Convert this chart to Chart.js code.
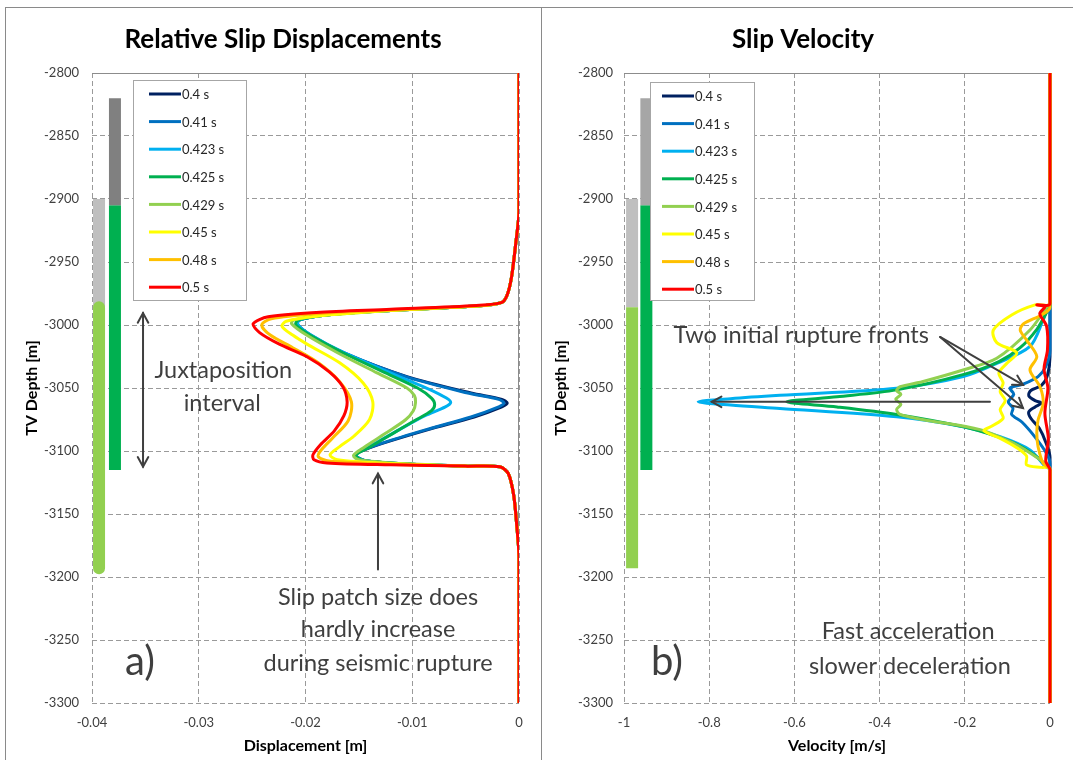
<!DOCTYPE html>
<html>
<head>
<meta charset="utf-8">
<title>Slip displacement and slip velocity</title>
<script src="https://cdn.jsdelivr.net/npm/chart.js@4.4.0/dist/chart.umd.min.js"></script>
<style>
    body { margin: 0; background: #fff; }
    #frame { position: absolute; left: 5px; top: 7px; width: 1068px; height: 753px; border-left: 1px solid #8a8a8a; border-top: 1px solid #8a8a8a; }
    #sep { position: absolute; left: 541px; top: 7px; width: 1px; height: 753px; background: #8a8a8a; }
    .panel { position: absolute; top: 8px; height: 752px; }
    #left-panel { left: 6px; width: 534px; }
    #right-panel { left: 542px; width: 530px; }
</style>
</head>
<body>
<div id="frame"></div>
<div id="sep"></div>
<div class="panel" id="left-panel"><canvas id="dispChart"></canvas></div>
<div class="panel" id="right-panel"><canvas id="velChart"></canvas></div>

<script>
// --- Data ---
const times = ['0.4 s', '0.41 s', '0.423 s', '0.425 s', '0.429 s', '0.45 s', '0.48 s', '0.5 s'];
const depthTicks = [-2800, -2850, -2900, -2950, -3000, -3050, -3100, -3150, -3200, -3250, -3300];
const dispTicks = [-0.04, -0.03, -0.02, -0.01, 0];
const velTicks = [-1, -0.8, -0.6, -0.4, -0.2, 0];

// well columns (top depth, bottom depth)
const unitAUpper = [-2900, -2986];
const unitALower = [-2986, -3193];
const unitBUpper = [-2820, -2905];
const unitBLower = [-2905, -3115];

// displacement [m] vs depth [m], as [displacement, depth]
const dispTop = [[0, -2800], [0, -2910], [-0.0003, -2935], [-0.0007, -2962], [-0.0011, -2976], [-0.0016, -2982]];
const dispBottom = [[-0.0018, -3112.5], [-0.001, -3118], [-0.0005, -3135], [-0.0002, -3160], [0, -3184], [0, -3300]];

const disp04 = [[-0.004, -2985], [-0.012, -2988.5], [-0.018, -2992], [-0.0206, -2996], [-0.0208, -3000], [-0.0196, -3008],
    [-0.0165, -3022], [-0.0105, -3041], [-0.0045, -3054], [-0.0016, -3059], [-0.0011, -3062], [-0.0016, -3065],
    [-0.0042, -3073], [-0.0085, -3083], [-0.0128, -3094], [-0.0150, -3101], [-0.0153, -3104], [-0.0142, -3108],
    [-0.010, -3110.5], [-0.005, -3112]];
const disp041 = [[-0.004, -2985], [-0.012, -2988.5], [-0.018, -2992], [-0.0206, -2996], [-0.0207, -3000], [-0.0195, -3008],
    [-0.0164, -3022], [-0.0106, -3041], [-0.0048, -3054], [-0.0019, -3059], [-0.0014, -3062], [-0.0019, -3065],
    [-0.0045, -3073], [-0.0087, -3083], [-0.0129, -3094], [-0.0150, -3101], [-0.0153, -3104], [-0.0142, -3108],
    [-0.010, -3110.5], [-0.005, -3112]];
const disp0423 = [[-0.004, -2985], [-0.012, -2988.5], [-0.018, -2992], [-0.0206, -2996], [-0.0207, -3000], [-0.0195, -3008],
    [-0.0164, -3022], [-0.0115, -3040], [-0.0084, -3051], [-0.0068, -3058], [-0.0064, -3061.5], [-0.0069, -3065],
    [-0.0088, -3072], [-0.0112, -3083], [-0.0135, -3094], [-0.0151, -3101], [-0.0153, -3104], [-0.0142, -3108],
    [-0.010, -3110.5], [-0.005, -3112]];
const disp0425 = [[-0.004, -2985], [-0.012, -2988.5], [-0.018, -2992], [-0.0207, -2996], [-0.0209, -3000], [-0.0196, -3008],
    [-0.0165, -3022], [-0.0125, -3038], [-0.0095, -3050], [-0.0082, -3058], [-0.0079, -3063], [-0.0082, -3068],
    [-0.0098, -3076], [-0.0118, -3086], [-0.0140, -3097], [-0.0153, -3103.5], [-0.0146, -3107.5],
    [-0.010, -3110.5], [-0.005, -3112]];
const disp0429 = [[-0.004, -2985], [-0.012, -2988.5], [-0.018, -2992], [-0.0211, -2996], [-0.0213, -2999], [-0.0199, -3008],
    [-0.0170, -3022], [-0.0133, -3038], [-0.0105, -3050], [-0.0098, -3056], [-0.0097, -3062], [-0.0099, -3068],
    [-0.0106, -3075], [-0.0125, -3086], [-0.0145, -3097], [-0.0155, -3103.5], [-0.0150, -3107],
    [-0.011, -3110], [-0.005, -3112]];
const disp045 = [[-0.004, -2985], [-0.012, -2988.5], [-0.019, -2993], [-0.0218, -2997], [-0.0222, -3001], [-0.0212, -3008],
    [-0.0199, -3015], [-0.0168, -3030], [-0.0146, -3046], [-0.0137, -3061], [-0.0140, -3075], [-0.0155, -3088.5],
    [-0.0168, -3096.5], [-0.0177, -3103], [-0.0170, -3107], [-0.012, -3110], [-0.005, -3112]];
const disp048 = [[-0.004, -2985], [-0.012, -2988], [-0.019, -2991], [-0.0232, -2995], [-0.0241, -3000], [-0.0233, -3008],
    [-0.0212, -3018], [-0.0188, -3030], [-0.0168, -3045], [-0.0157, -3061], [-0.0160, -3076], [-0.0175, -3090],
    [-0.0186, -3100], [-0.0188, -3104.5], [-0.0178, -3108], [-0.012, -3110.5], [-0.005, -3112]];
const disp05 = [[-0.004, -2984.5], [-0.012, -2987.5], [-0.019, -2990], [-0.0235, -2993.5], [-0.0249, -2999], [-0.0243, -3006],
    [-0.0225, -3015], [-0.0199, -3025], [-0.0178, -3037], [-0.0165, -3049], [-0.0161, -3061], [-0.0164, -3072],
    [-0.0173, -3084], [-0.0186, -3095], [-0.0193, -3103], [-0.0192, -3107], [-0.0180, -3109.5], [-0.012, -3111],
    [-0.005, -3112]];

// slip velocity [m/s] vs depth [m], as [velocity, depth]
const vel04 = [[0, -2800], [0, -3025], [-0.006, -3040], [-0.02, -3048], [-0.045, -3052], [-0.05, -3056], [-0.035, -3060],
    [-0.02, -3062], [-0.035, -3065], [-0.05, -3069], [-0.045, -3074], [-0.025, -3082], [-0.01, -3093], [0, -3105], [0, -3300]];
const vel041 = [[0, -2800], [0, -3020], [-0.01, -3033], [-0.028, -3041], [-0.063, -3047], [-0.094, -3050], [-0.085, -3055],
    [-0.098, -3061], [-0.087, -3066], [-0.09, -3071], [-0.066, -3077], [-0.035, -3089], [-0.008, -3102], [0, -3110], [0, -3300]];
const vel0423 = [[0, -2800], [0, -2985], [-0.008, -2989], [-0.016, -2996], [-0.047, -3017], [-0.125, -3030.5], [-0.2035, -3041],
    [-0.36, -3050.2], [-0.634, -3055.8], [-0.75, -3058.5], [-0.826, -3061], [-0.75, -3063.5], [-0.634, -3066.2], [-0.36, -3072.8],
    [-0.2035, -3080.7], [-0.117, -3088.7], [-0.047, -3099.2], [-0.012, -3112], [0, -3115], [0, -3300]];
const vel0425 = [[0, -2800], [0, -2985], [-0.008, -2990], [-0.03, -3003], [-0.07, -3018], [-0.12, -3029], [-0.2, -3039],
    [-0.36, -3051.5], [-0.5, -3057], [-0.618, -3061], [-0.5, -3065], [-0.36, -3071], [-0.2, -3081], [-0.12, -3089],
    [-0.07, -3096], [-0.03, -3105], [-0.008, -3112], [0, -3115], [0, -3300]];
const vel0429 = [[0, -2800], [0, -2983], [-0.008, -2986], [-0.047, -3004], [-0.125, -3026.4], [-0.204, -3035.7], [-0.30, -3045],
    [-0.352, -3049], [-0.36, -3052], [-0.35, -3055], [-0.362, -3059], [-0.35, -3063], [-0.36, -3067], [-0.352, -3071],
    [-0.30, -3075], [-0.164, -3083], [-0.087, -3093.6], [-0.047, -3101.6], [-0.008, -3111], [0, -3116], [0, -3300]];
const vel045 = [[0, -2800], [0, -2983], [-0.035, -2984], [-0.09, -2992], [-0.133, -3004], [-0.125, -3014], [-0.078, -3022],
    [-0.1, -3030], [-0.12, -3038], [-0.11, -3046], [-0.117, -3053], [-0.105, -3060], [-0.117, -3067], [-0.11, -3074],
    [-0.135, -3080], [-0.155, -3084], [-0.117, -3090], [-0.08, -3097], [-0.055, -3104], [-0.055, -3111], [-0.02, -3113],
    [0, -3114], [0, -3300]];
const vel048 = [[0, -2800], [0, -2986], [-0.02, -2992], [-0.062, -2999], [-0.07, -3004], [-0.055, -3012], [-0.031, -3025],
    [-0.047, -3035.7], [-0.0235, -3049], [-0.016, -3062], [-0.028, -3075.4], [-0.031, -3086], [-0.028, -3096.6],
    [-0.016, -3109.8], [0, -3115], [0, -3300]];
const vel05 = [[0, -2800], [0, -2983], [-0.031, -2984], [-0.012, -2985.5], [-0.024, -2991], [-0.008, -3001], [-0.006, -3020],
    [-0.014, -3035], [-0.005, -3050], [-0.012, -3070], [-0.004, -3090], [-0.01, -3108], [0, -3115], [0, -3300]];

// --- Styles ---
const seriesColors = ['#002060', '#0070c0', '#00b0f0', '#00b050', '#92d050', '#ffff00', '#ffc000', '#ff0000'];
const gridGray = '#9a9a9a';
const noteColor = '#3f3f3f';
const noteFont = '23.5px Lato, "Open Sans", sans-serif';
const bigNoteFont = '40px Lato, "Open Sans", sans-serif';
const fontFamily = 'Lato, "Open Sans", sans-serif';

const toPoints = pairs => pairs.map(p => ({ x: p[0], y: p[1] }));

function curveDatasets(seriesList, clip) {
    return seriesList.map((pairs, i) => ({
        label: times[i],
        data: toPoints(pairs),
        borderColor: seriesColors[i],
        borderWidth: 3,
        showLine: true,
        pointRadius: 0,
        tension: 0.3,
        clip: clip,
        order: seriesList.length - 1 - i
    }));
}

function columnDataset(xValue, depths, color, cap) {
    return {
        label: '',
        isColumn: true,
        data: [{ x: xValue, y: depths[0] }, { x: xValue, y: depths[1] }],
        borderColor: color,
        borderWidth: 12,
        borderCapStyle: cap,
        showLine: true,
        pointRadius: 0,
        order: 20
    };
}

// --- Plugins ---
const framePlugin = {
    id: 'plotFrame',
    beforeDatasetsDraw(chart) {
        const { ctx, chartArea } = chart;
        ctx.save();
        ctx.strokeStyle = '#8c8c8c';
        ctx.lineWidth = 1;
        ctx.beginPath();
        ctx.moveTo(chartArea.left, chartArea.top + 0.5);
        ctx.lineTo(chartArea.right, chartArea.top + 0.5);
        ctx.moveTo(chartArea.right - 0.5, chartArea.top);
        ctx.lineTo(chartArea.right - 0.5, chartArea.bottom);
        ctx.stroke();
        ctx.restore();
    }
};

// chart heading, drawn in the space kept free by layout.padding.top
const headingPlugin = {
    id: 'heading',
    afterDraw(chart, args, opts) {
        const { ctx } = chart;
        ctx.save();
        ctx.font = 'bold 26px ' + fontFamily;
        ctx.fillStyle = '#000';
        ctx.textAlign = 'center';
        ctx.textBaseline = 'middle';
        ctx.fillText(opts.text, opts.cx, opts.cy);
        ctx.restore();
    }
};

function drawHead(ctx, fromX, fromY, toX, toY) {
    const ang = Math.atan2(toY - fromY, toX - fromX);
    const len = 11, spread = 0.5;
    ctx.beginPath();
    ctx.moveTo(toX - len * Math.cos(ang - spread), toY - len * Math.sin(ang - spread));
    ctx.lineTo(toX, toY);
    ctx.lineTo(toX - len * Math.cos(ang + spread), toY - len * Math.sin(ang + spread));
    ctx.stroke();
}

const notesPlugin = {
    id: 'notes',
    afterDatasetsDraw(chart, args, opts) {
        const { ctx, scales: { x, y } } = chart;
        ctx.save();
        ctx.strokeStyle = noteColor;
        ctx.fillStyle = noteColor;
        ctx.lineWidth = 2;
        ctx.lineCap = 'round';
        (opts.arrows || []).forEach(a => {
            const x1 = x.getPixelForValue(a.from[0]), y1 = y.getPixelForValue(a.from[1]);
            const x2 = x.getPixelForValue(a.to[0]), y2 = y.getPixelForValue(a.to[1]);
            ctx.beginPath();
            ctx.moveTo(x1, y1);
            ctx.lineTo(x2, y2);
            ctx.stroke();
            drawHead(ctx, x1, y1, x2, y2);
            if (a.both) drawHead(ctx, x2, y2, x1, y1);
        });
        ctx.textAlign = 'center';
        ctx.textBaseline = 'middle';
        (opts.texts || []).forEach(t => {
            ctx.font = t.font || noteFont;
            ctx.fillText(t.text, x.getPixelForValue(t.at[0]), y.getPixelForValue(t.at[1]));
        });
        ctx.restore();
    }
};

const legendBoxPlugin = {
    id: 'legendBox',
    afterDraw(chart, args, opts) {
        const { ctx, chartArea } = chart;
        const left = chartArea.left + opts.dx, top = chartArea.top + opts.dy;
        ctx.save();
        ctx.fillStyle = '#fff';
        ctx.strokeStyle = '#a6a6a6';
        ctx.lineWidth = 1;
        ctx.fillRect(left, top, opts.width, opts.height);
        ctx.strokeRect(left + 0.5, top + 0.5, opts.width, opts.height);
        ctx.font = '13px ' + fontFamily;
        ctx.textBaseline = 'middle';
        ctx.textAlign = 'left';
        const items = chart.data.datasets.filter(d => !d.isColumn);
        items.forEach((d, i) => {
            const yy = top + 14 + i * 27.6;
            ctx.strokeStyle = d.borderColor;
            ctx.lineWidth = 3;
            ctx.beginPath();
            ctx.moveTo(left + opts.lineStart, yy);
            ctx.lineTo(left + opts.lineStart + 32, yy);
            ctx.stroke();
            ctx.fillStyle = '#262626';
            ctx.fillText(d.label, left + opts.lineStart + 33, yy + 1);
        });
        ctx.restore();
    }
};

// --- Shared axis setup ---
function makeScales(xTicks, xTitle, yAxisWidth, yTitlePad, yTickPad) {
    const tickFont = { family: fontFamily, size: 13 };
    const titleFont = { family: fontFamily, size: 16, weight: 'bold' };
    return {
        x: {
            type: 'linear',
            min: xTicks[0],
            max: xTicks[xTicks.length - 1],
            afterBuildTicks: s => { s.ticks = xTicks.map(v => ({ value: v })); },
            afterFit: s => { s.height = 57; },
            grid: { color: gridGray, lineWidth: 1, drawTicks: false },
            border: { display: false, dash: [5, 3] },
            ticks: { color: '#404040', font: tickFont, padding: 12, maxRotation: 0, autoSkip: false,
                callback: v => String(+v.toFixed(3)) },
            title: { display: true, text: xTitle, color: '#000', font: titleFont, padding: { top: 0, bottom: 5 } }
        },
        y: {
            type: 'linear',
            min: depthTicks[depthTicks.length - 1],
            max: depthTicks[0],
            afterBuildTicks: s => { s.ticks = depthTicks.map(v => ({ value: v })); },
            afterFit: s => { s.width = yAxisWidth; },
            grid: { color: gridGray, lineWidth: 1, drawTicks: false },
            border: { display: false, dash: [5, 3] },
            ticks: { color: '#404040', font: tickFont, padding: yTickPad, autoSkip: false,
                callback: v => String(v) },
            title: { display: true, text: 'TV Depth [m]', color: '#000', font: titleFont, padding: { top: yTitlePad, bottom: 0 } }
        }
    };
}

// --- Left chart: relative slip displacements ---
const dispSeries = [disp04, disp041, disp0423, disp0425, disp0429, disp045, disp048, disp05]
    .map(mid => dispTop.concat(mid, dispBottom));

new Chart(document.getElementById('dispChart'), {
    type: 'scatter',
    data: {
        datasets: curveDatasets(dispSeries, 0).concat([
            columnDataset(-0.03934, unitALower, '#92d050', 'round'),
            columnDataset(-0.03934, unitAUpper, '#bfbfbf', 'butt'),
            columnDataset(-0.03785, unitBUpper, '#808080', 'butt'),
            columnDataset(-0.03785, unitBLower, '#00b050', 'butt')
        ])
    },
    options: {
        responsive: true,
        maintainAspectRatio: false,
        animation: false,
        layout: { padding: { left: 0, right: 21, top: 65, bottom: 0 } },
        scales: makeScales(dispTicks, 'Displacement [m]', 86, 16, 13),
        plugins: {
            legend: { display: false },
            tooltip: { enabled: false },
            heading: { text: 'Relative Slip Displacements', cx: 277, cy: 32 },
            legendBox: { dx: 41, dy: 7, width: 113, height: 220, lineStart: 16 },
            notes: {
                arrows: [
                    { from: [-0.03522, -2990.5], to: [-0.03522, -3112.5], both: true },
                    { from: [-0.01321, -3194], to: [-0.01321, -3118] }
                ],
                texts: [
                    { text: 'Juxtaposition', at: [-0.0277, -3035.7] },
                    { text: 'interval', at: [-0.0278, -3062] },
                    { text: 'Slip patch size does', at: [-0.0132, -3216] },
                    { text: 'hardly increase', at: [-0.0132, -3242] },
                    { text: 'during seismic rupture', at: [-0.0132, -3268.3] },
                    { text: 'a)', at: [-0.0355, -3267.5], font: bigNoteFont }
                ]
            }
        }
    },
    plugins: [framePlugin, notesPlugin, legendBoxPlugin, headingPlugin]
});

// --- Right chart: slip velocity ---
const velSeries = [vel04, vel041, vel0423, vel0425, vel0429, vel045, vel048, vel05];

new Chart(document.getElementById('velChart'), {
    type: 'scatter',
    data: {
        datasets: curveDatasets(velSeries, { left: 0, top: 0, bottom: 0, right: 2 }).concat([
            columnDataset(-0.981, unitALower, '#92d050', 'butt'),
            columnDataset(-0.981, unitAUpper, '#bfbfbf', 'butt'),
            columnDataset(-0.9475, unitBUpper, '#a6a6a6', 'butt'),
            columnDataset(-0.9475, unitBLower, '#00b050', 'butt')
        ])
    },
    options: {
        responsive: true,
        maintainAspectRatio: false,
        animation: false,
        layout: { padding: { left: 0, right: 22, top: 65, bottom: 0 } },
        scales: makeScales(velTicks, 'Velocity [m/s]', 82, 9, 11),
        plugins: {
            legend: { display: false },
            tooltip: { enabled: false },
            heading: { text: 'Slip Velocity', cx: 261, cy: 32 },
            legendBox: { dx: 26, dy: 9, width: 104, height: 218, lineStart: 12 },
            notes: {
                arrows: [
                    { from: [-0.141, -3061], to: [-0.794, -3061] },
                    { from: [-0.258, -3009.5], to: [-0.0634, -3047.6] },
                    { from: [-0.258, -3009.5], to: [-0.0634, -3065.9] }
                ],
                texts: [
                    { text: 'Two initial rupture fronts', at: [-0.584, -3008] },
                    { text: 'Fast acceleration', at: [-0.333, -3243.4] },
                    { text: 'slower deceleration', at: [-0.329, -3271.2] },
                    { text: 'b)', at: [-0.899, -3267.5], font: bigNoteFont }
                ]
            }
        }
    },
    plugins: [framePlugin, notesPlugin, legendBoxPlugin, headingPlugin]
});
</script>
</body>
</html>
